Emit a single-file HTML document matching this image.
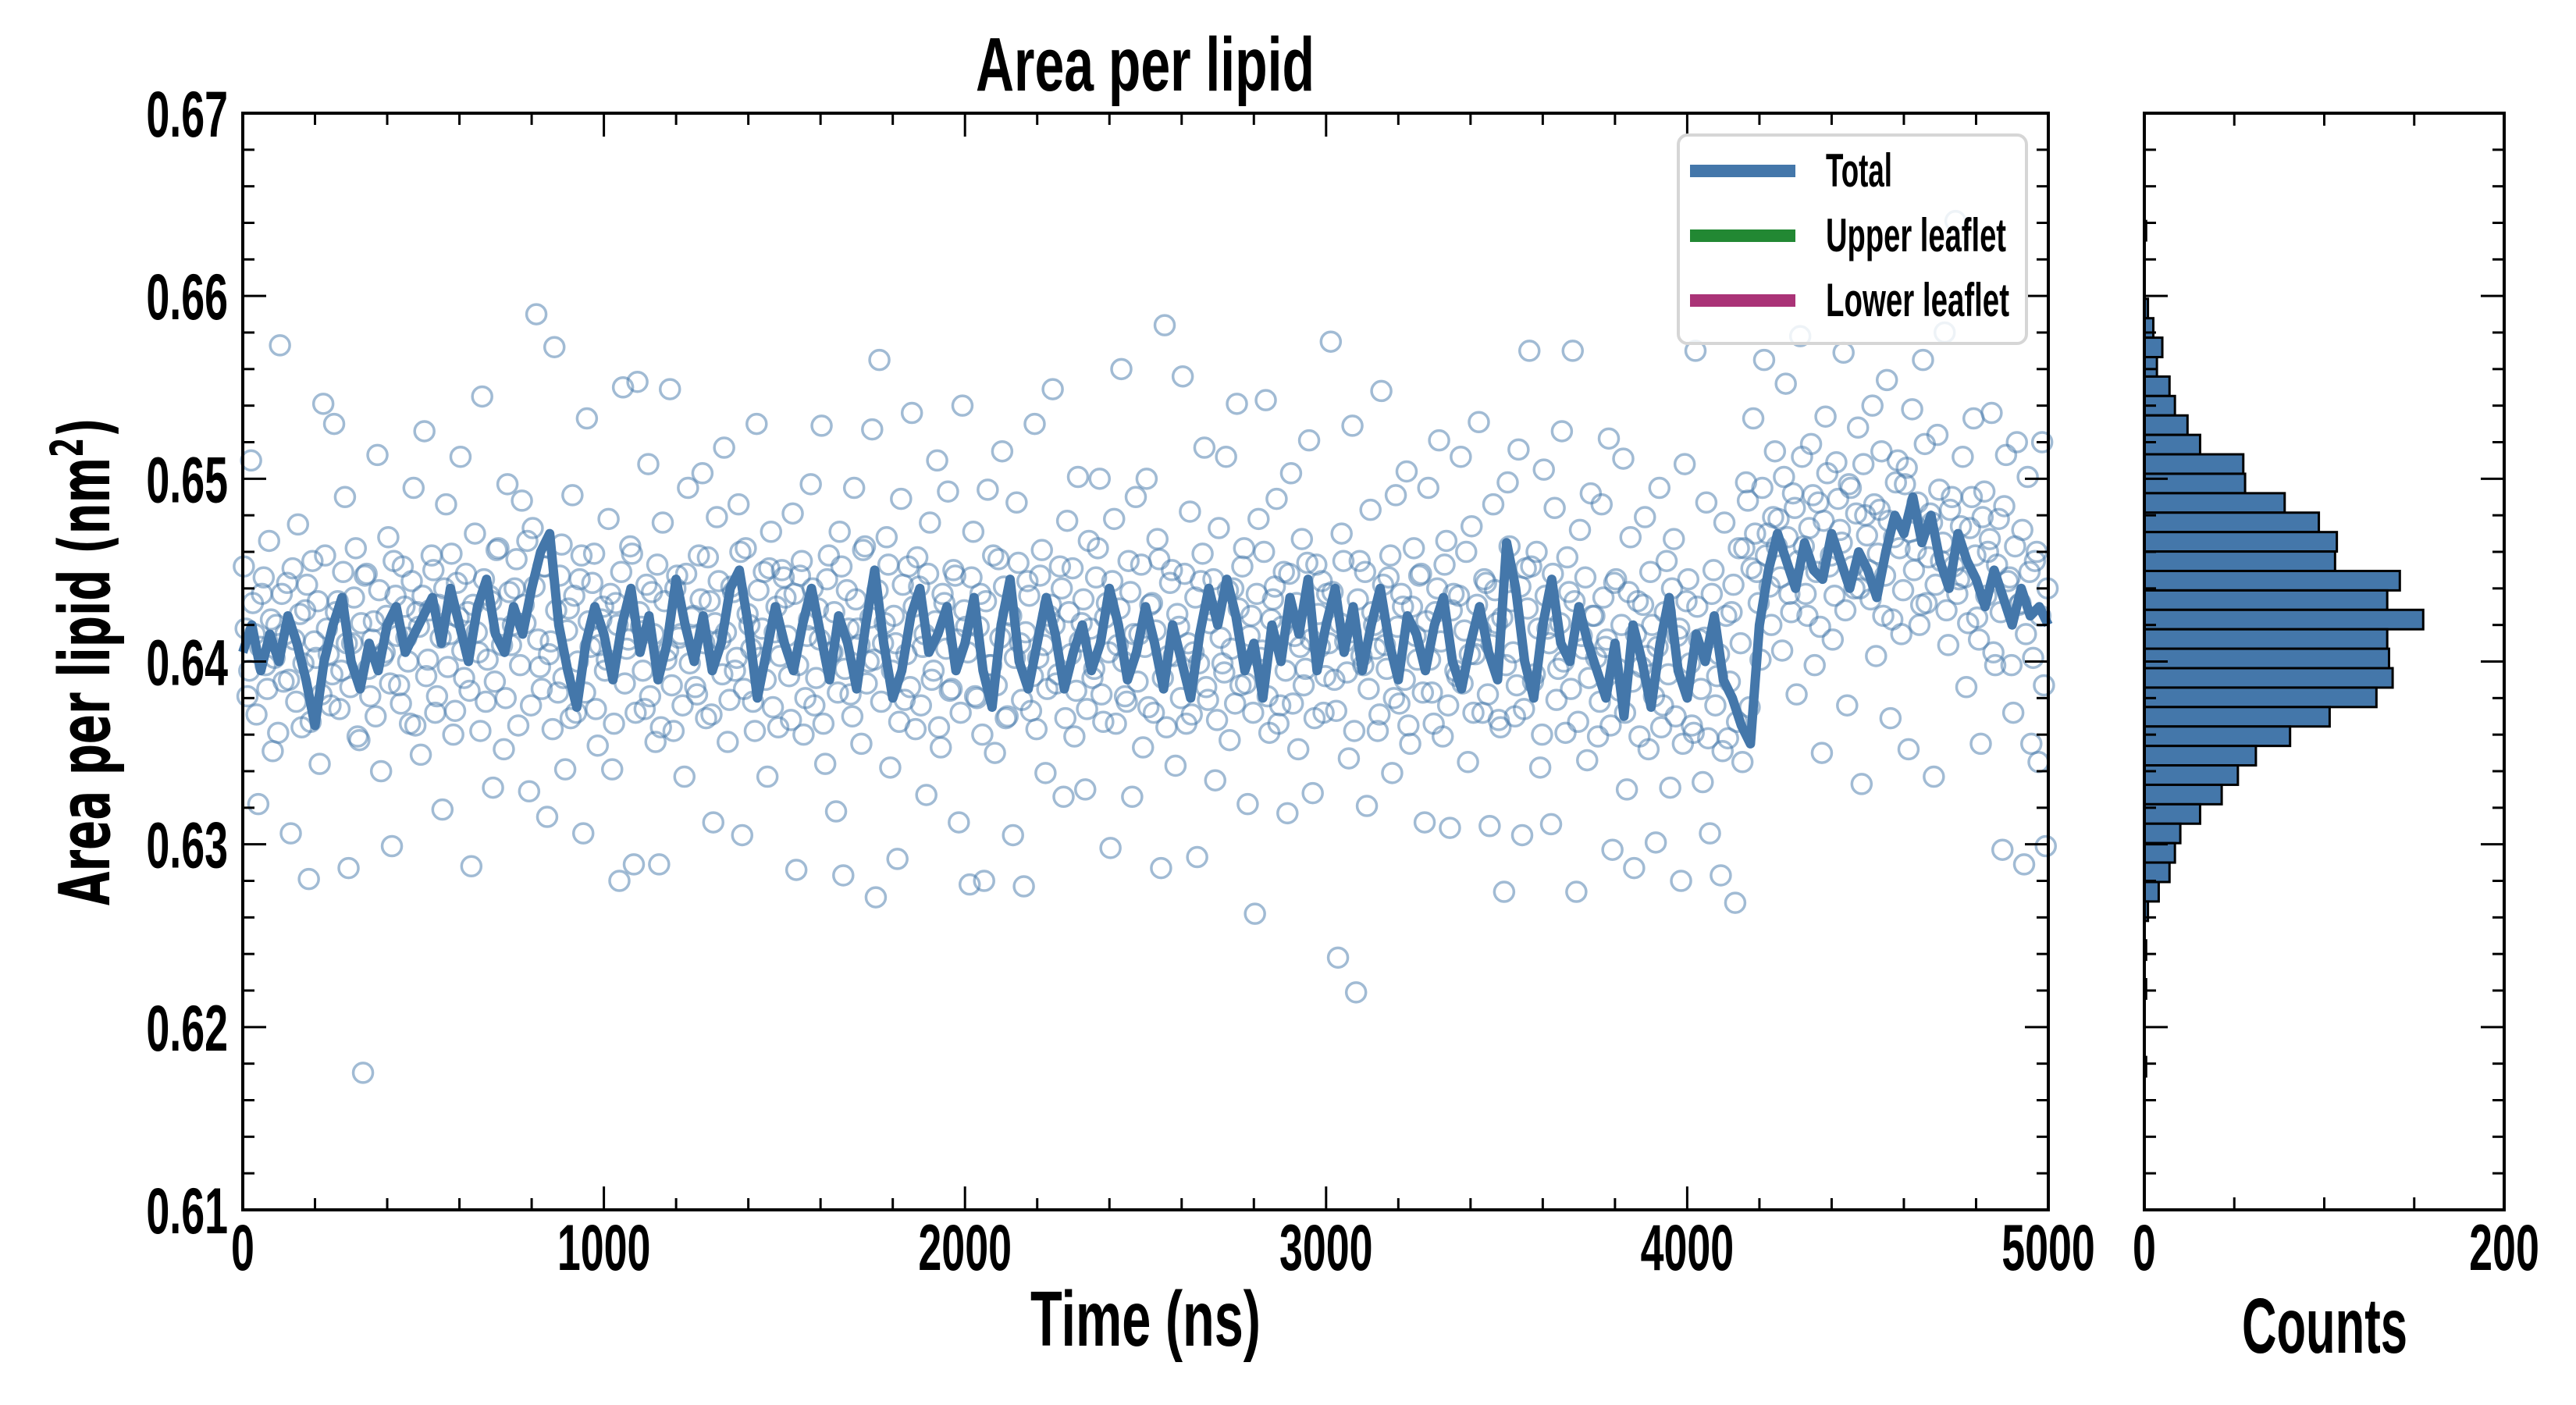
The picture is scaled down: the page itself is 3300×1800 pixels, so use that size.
<!DOCTYPE html>
<html><head><meta charset="utf-8"><style>
html,body{margin:0;padding:0;background:#fff;}
svg{display:block;font-family:"Liberation Sans",sans-serif;font-weight:bold;}
</style></head><body>
<svg id="chart" width="3300" height="1800" viewBox="0 0 3300 1800" xmlns="http://www.w3.org/2000/svg">
<rect x="0" y="0" width="3300" height="1800" fill="#fff"/>
<g id="scatter"></g>
<g id="line"></g>
<g id="hist"></g>
<g id="axes"></g>
<g id="legend">
<rect x="2150" y="173" width="446" height="267" rx="12" fill="#fff" fill-opacity="0.82" stroke="#d6d6d6" stroke-width="4"/>
<rect x="2165" y="211" width="135" height="16" fill="#4477aa"/>
<rect x="2165" y="294" width="135" height="16" fill="#228833"/>
<rect x="2165" y="377" width="135" height="16" fill="#aa3377"/>
<text x="2339" y="239" font-size="60" textLength="85" lengthAdjust="spacingAndGlyphs">Total</text>
<text x="2339" y="322" font-size="60" textLength="231" lengthAdjust="spacingAndGlyphs">Upper leaflet</text>
<text x="2339" y="405" font-size="60" textLength="235" lengthAdjust="spacingAndGlyphs">Lower leaflet</text>
</g>
<text x="1250" y="116" font-size="97" textLength="434" lengthAdjust="spacingAndGlyphs">Area per lipid</text>
<text x="1320" y="1724" font-size="100" textLength="295" lengthAdjust="spacingAndGlyphs">Time (ns)</text>
<text x="2872" y="1733" font-size="100" textLength="212" lengthAdjust="spacingAndGlyphs">Counts</text>
<text transform="translate(140,1160) rotate(-90)" font-size="90" style="font-family:'DejaVu Sans',sans-serif;font-weight:bold" textLength="625" lengthAdjust="spacingAndGlyphs">Area per lipid (nm<tspan font-size="58" dy="-34">2</tspan><tspan dy="34">)</tspan></text>
</svg>
<script>
const scatterVals = [
0.6452,0.6381,0.6510,0.6415,0.6322,0.6437,0.6398,0.6466,0.6351,0.6420,0.6573,0.6389,0.6443,0.6306,0.6412,0.6475,0.6364,0.6428,0.6281,0.6455,0.6402,0.6344,0.6541,0.6418,0.6376,
0.6530,0.6433,0.6395,0.6490,0.6287,0.6410,0.6462,0.6357,0.6175,0.6448,0.6381,0.6422,0.6513,0.6340,0.6405,0.6468,0.6299,0.6436,0.6387,0.6452,0.6413,0.6366,0.6495,0.6427,0.6349,
0.6526,0.6401,0.6458,0.6372,0.6431,0.6319,0.6486,0.6415,0.6360,0.6443,0.6512,0.6391,0.6427,0.6288,0.6470,0.6405,0.6545,0.6378,0.6436,0.6331,0.6461,0.6418,0.6352,0.6497,0.6409,
0.6440,0.6365,0.6488,0.6421,0.6329,0.6473,0.6590,0.6397,0.6452,0.6315,0.6411,0.6572,0.6383,0.6464,0.6341,0.6429,0.6491,0.6372,0.6445,0.6306,0.6533,0.6408,0.6459,0.6354,0.6423,
0.6395,0.6478,0.6341,0.6432,0.6280,0.6550,0.6407,0.6463,0.6289,0.6553,0.6419,0.6374,0.6508,0.6438,0.6356,0.6289,0.6476,0.6401,0.6549,0.6362,0.6447,0.6415,0.6337,0.6495,0.6424,
0.6386,0.6458,0.6503,0.6369,0.6433,0.6312,0.6479,0.6412,0.6517,0.6356,0.6441,0.6395,0.6486,0.6305,0.6462,0.6420,0.6378,0.6530,0.6402,0.6449,0.6337,0.6471,0.6416,0.6364,0.6450,
0.6435,0.6392,0.6481,0.6286,0.6447,0.6360,0.6414,0.6497,0.6376,0.6429,0.6529,0.6344,0.6458,0.6405,0.6318,0.6471,0.6283,0.6439,0.6382,0.6495,0.6418,0.6355,0.6463,0.6400,0.6527,
0.6271,0.6565,0.6410,0.6468,0.6342,0.6425,0.6292,0.6489,0.6379,0.6452,0.6536,0.6363,0.6441,0.6408,0.6327,0.6476,0.6395,0.6510,0.6353,0.6432,0.6493,0.6385,0.6447,0.6312,0.6540,
0.6419,0.6278,0.6471,0.6380,0.6437,0.6280,0.6494,0.6398,0.6350,0.6456,0.6515,0.6369,0.6426,0.6305,0.6487,0.6410,0.6277,0.6444,0.6373,0.6530,0.6402,0.6461,0.6339,0.6425,0.6549,
0.6388,0.6452,0.6326,0.6477,0.6404,0.6359,0.6501,0.6421,0.6330,0.6466,0.6391,0.6446,0.6500,0.6367,0.6432,0.6298,0.6478,0.6409,0.6560,0.6381,0.6455,0.6326,0.6490,0.6415,0.6353,
0.6500,0.6431,0.6372,0.6467,0.6287,0.6584,0.6403,0.6450,0.6343,0.6419,0.6556,0.6366,0.6482,0.6405,0.6293,0.6444,0.6517,0.6379,0.6428,0.6335,0.6473,0.6399,0.6512,0.6357,0.6440,
0.6541,0.6387,0.6462,0.6322,0.6425,0.6262,0.6478,0.6406,0.6543,0.6361,0.6434,0.6489,0.6376,0.6449,0.6317,0.6503,0.6414,0.6352,0.6467,0.6396,0.6521,0.6328,0.6453,0.6408,0.6372,
0.6437,0.6575,0.6390,0.6238,0.6470,0.6411,0.6347,0.6529,0.6219,0.6455,0.6398,0.6321,0.6483,0.6420,0.6362,0.6548,0.6409,0.6446,0.6339,0.6491,0.6377,0.6430,0.6504,0.6355,0.6462,
0.6401,0.6448,0.6312,0.6495,0.6383,0.6427,0.6521,0.6359,0.6466,0.6309,0.6437,0.6392,0.6512,0.6417,0.6345,0.6474,0.6404,0.6531,0.6372,0.6443,0.6310,0.6486,0.6421,0.6364,0.6274,
0.6498,0.6433,0.6370,0.6516,0.6305,0.6451,0.6570,0.6389,0.6460,0.6342,0.6505,0.6418,0.6311,0.6484,0.6396,0.6526,0.6361,0.6438,0.6570,0.6274,0.6472,0.6407,0.6346,0.6492,0.6425,
0.6359,0.6486,0.6408,0.6522,0.6297,0.6445,0.6384,0.6511,0.6330,0.6468,0.6287,0.6433,0.6397,0.6479,0.6352,0.6420,0.6301,0.6495,0.6376,0.6455,0.6331,0.6467,0.6414,0.6280,0.6508,
0.6445,0.6365,0.6570,0.6412,0.6334,0.6487,0.6306,0.6450,0.6392,0.6283,0.6476,0.6358,0.6427,0.6268,0.6462,0.6345,0.6498,0.6375,0.6533,0.6449,0.6401,0.6565,0.6470,0.6420,0.6515,
0.6478,0.6406,0.6552,0.6437,0.6492,0.6382,0.6578,0.6463,0.6425,0.6519,0.6398,0.6487,0.6350,0.6534,0.6452,0.6412,0.6509,0.6472,0.6569,0.6376,0.6495,0.6440,0.6528,0.6333,0.6480,
0.6450,0.6540,0.6403,0.6483,0.6425,0.6554,0.6369,0.6468,0.6510,0.6415,0.6497,0.6352,0.6538,0.6461,0.6420,0.6565,0.6432,0.6481,0.6337,0.6524,0.6455,0.6580,0.6409,0.6490,0.6641,
0.6445,0.6512,0.6386,0.6473,0.6533,0.6424,0.6355,0.6493,0.6460,0.6536,0.6398,0.6478,0.6297,0.6513,0.6446,0.6372,0.6520,0.6432,0.6289,0.6501,0.6355,0.6455,0.6345,0.6520,0.6299
];
const scatterVals2 = [
0.6418,0.6395,0.6432,0.6371,0.6408,0.6446,0.6385,0.6423,0.6402,0.6361,0.6437,0.6415,0.6390,0.6451,0.6378,0.6426,0.6399,0.6442,0.6367,0.6411,0.6433,0.6382,0.6458,0.6404,0.6393,
0.6427,0.6374,0.6449,0.6410,0.6386,0.6435,0.6359,0.6421,0.6447,0.6396,0.6412,0.6370,0.6439,0.6403,0.6425,0.6388,0.6455,0.6414,0.6377,0.6430,0.6400,0.6444,0.6365,0.6419,0.6436,
0.6392,0.6428,0.6450,0.6381,0.6413,0.6440,0.6397,0.6459,0.6373,0.6424,0.6406,0.6448,0.6384,0.6431,0.6416,0.6362,0.6445,0.6401,0.6433,0.6389,0.6462,0.6409,0.6380,0.6438,0.6420,
0.6456,0.6398,0.6431,0.6466,0.6376,0.6441,0.6412,0.6385,0.6452,0.6404,0.6363,0.6428,0.6447,0.6391,0.6417,0.6369,0.6436,0.6400,0.6458,0.6383,0.6422,0.6443,0.6374,0.6409,0.6430,
0.6401,0.6437,0.6366,0.6420,0.6449,0.6388,0.6412,0.6459,0.6372,0.6427,0.6395,0.6442,0.6381,0.6415,0.6453,0.6364,0.6433,0.6406,0.6387,0.6440,0.6413,0.6376,0.6448,0.6399,0.6425,
0.6382,0.6434,0.6410,0.6457,0.6371,0.6421,0.6444,0.6393,0.6416,0.6379,0.6438,0.6402,0.6460,0.6385,0.6426,0.6407,0.6362,0.6439,0.6418,0.6390,0.6451,0.6375,0.6430,0.6403,0.6446,
0.6414,0.6368,0.6437,0.6398,0.6455,0.6380,0.6423,0.6440,0.6391,0.6412,0.6366,0.6445,0.6405,0.6427,0.6383,0.6452,0.6396,0.6418,0.6370,0.6434,0.6409,0.6461,0.6388,0.6424,0.6401,
0.6439,0.6378,0.6421,0.6453,0.6395,0.6410,0.6367,0.6442,0.6404,0.6386,0.6430,0.6457,0.6376,0.6415,0.6448,0.6390,0.6422,0.6364,0.6437,0.6407,0.6384,0.6450,0.6412,0.6372,0.6428,
0.6405,0.6446,0.6381,0.6419,0.6360,0.6433,0.6398,0.6458,0.6387,0.6413,0.6441,0.6370,0.6425,0.6402,0.6454,0.6379,0.6416,0.6436,0.6392,0.6363,0.6447,0.6409,0.6385,0.6431,0.6420,
0.6393,0.6440,0.6369,0.6427,0.6451,0.6384,0.6411,0.6434,0.6374,0.6418,0.6396,0.6462,0.6382,0.6424,0.6405,0.6444,0.6366,0.6429,0.6400,0.6378,0.6438,0.6415,0.6389,0.6453,0.6408,
0.6375,0.6432,0.6417,0.6456,0.6391,0.6364,0.6443,0.6403,0.6426,0.6380,0.6448,0.6410,0.6371,0.6435,0.6399,0.6459,0.6386,0.6421,0.6445,0.6368,0.6413,0.6394,0.6439,0.6407,0.6377,
0.6429,0.6452,0.6388,0.6414,0.6372,0.6437,0.6402,0.6460,0.6381,0.6423,0.6441,0.6366,0.6419,0.6395,0.6448,0.6377,0.6432,0.6408,0.6387,0.6454,0.6412,0.6369,0.6426,0.6444,0.6392,
0.6410,0.6438,0.6373,0.6421,0.6455,0.6394,0.6416,0.6362,0.6434,0.6403,0.6449,0.6385,0.6427,0.6407,0.6371,0.6442,0.6396,0.6458,0.6380,0.6419,0.6437,0.6390,0.6365,0.6430,0.6414,
0.6447,0.6383,0.6422,0.6401,0.6366,0.6440,0.6411,0.6453,0.6376,0.6428,0.6395,0.6436,0.6388,0.6460,0.6404,0.6372,0.6431,0.6417,0.6445,0.6382,0.6409,0.6439,0.6368,0.6424,0.6398,
0.6463,0.6405,0.6387,0.6441,0.6374,0.6429,0.6452,0.6393,0.6418,0.6360,0.6436,0.6410,0.6448,0.6379,0.6421,0.6400,0.6457,0.6385,0.6433,0.6367,0.6414,0.6446,0.6391,0.6425,0.6402,
0.6378,0.6435,0.6412,0.6365,0.6443,0.6396,0.6420,0.6372,0.6438,0.6389,0.6415,0.6359,0.6431,0.6403,0.6449,0.6381,0.6408,0.6364,0.6427,0.6393,0.6440,0.6370,0.6418,0.6355,0.6433,
0.6399,0.6361,0.6430,0.6385,0.6413,0.6358,0.6437,0.6376,0.6404,0.6351,0.6425,0.6389,0.6442,0.6367,0.6410,0.6462,0.6488,0.6451,0.6470,0.6432,0.6495,0.6458,0.6441,0.6479,0.6463,
0.6446,0.6501,0.6468,0.6427,0.6484,0.6455,0.6512,0.6437,0.6473,0.6491,0.6449,0.6419,0.6477,0.6503,0.6458,0.6436,0.6489,0.6465,0.6428,0.6497,0.6452,0.6481,0.6440,0.6508,0.6469,
0.6434,0.6486,0.6459,0.6515,0.6447,0.6477,0.6423,0.6498,0.6462,0.6439,0.6506,0.6471,0.6450,0.6487,0.6431,0.6519,0.6457,0.6476,0.6442,0.6494,0.6465,0.6428,0.6483,0.6452,0.6437,
0.6474,0.6446,0.6421,0.6490,0.6458,0.6412,0.6479,0.6436,0.6467,0.6405,0.6453,0.6427,0.6485,0.6444,0.6398,0.6463,0.6431,0.6472,0.6415,0.6449,0.6402,0.6460,0.6425,0.6387,0.6440
];
const scatterStep = 10; // ns between samples
const lineVals = [
0.6405,0.6420,0.6395,0.6415,0.6400,0.6425,0.6410,0.6390,0.6365,0.6400,
0.6420,0.6435,0.6400,0.6385,0.6410,0.6395,0.6420,0.6430,0.6405,0.6415,
0.6425,0.6435,0.6410,0.6440,0.6420,0.6400,0.6430,0.6445,0.6415,0.6405,
0.6430,0.6415,0.6440,0.6460,0.6470,0.6420,0.6395,0.6375,0.6410,0.6430,
0.6415,0.6390,0.6420,0.6440,0.6405,0.6425,0.6390,0.6410,0.6445,0.6420,
0.6400,0.6425,0.6395,0.6410,0.6440,0.6450,0.6420,0.6380,0.6405,0.6430,
0.6410,0.6395,0.6420,0.6440,0.6415,0.6390,0.6425,0.6410,0.6385,0.6420,
0.6450,0.6410,0.6380,0.6395,0.6425,0.6440,0.6405,0.6415,0.6430,0.6395,
0.6410,0.6435,0.6395,0.6375,0.6420,0.6445,0.6400,0.6385,0.6410,0.6435,
0.6415,0.6385,0.6405,0.6420,0.6395,0.6410,0.6440,0.6420,0.6390,0.6405,
0.6430,0.6410,0.6385,0.6420,0.6400,0.6380,0.6415,0.6440,0.6420,0.6445,
0.6425,0.6395,0.6410,0.6380,0.6420,0.6400,0.6435,0.6415,0.6445,0.6395,
0.6420,0.6440,0.6405,0.6430,0.6395,0.6420,0.6440,0.6410,0.6390,0.6425,
0.6415,0.6395,0.6420,0.6435,0.6400,0.6385,0.6410,0.6430,0.6405,0.6390,
0.6465,0.6440,0.6400,0.6380,0.6420,0.6445,0.6410,0.6400,0.6430,0.6410,
0.6395,0.6380,0.6410,0.6370,0.6420,0.6400,0.6375,0.6410,0.6435,0.6395,
0.6380,0.6415,0.6400,0.6425,0.6390,0.6380,0.6365,0.6355,0.6420,0.6450,
0.6470,0.6455,0.6440,0.6465,0.6450,0.6445,0.6470,0.6455,0.6440,0.6460,
0.6450,0.6435,0.6460,0.6480,0.6470,0.6490,0.6465,0.6480,0.6455,0.6440,
0.6470,0.6455,0.6445,0.6430,0.6450,0.6435,0.6420,0.6440,0.6425,0.6430,
0.6420
];
const lineStep = 25; // ns
const histCounts = [1,0,0,0,2,5,10,7,14,17,24,31,55,56,78,97,107,106,142,135,155,135,136,138,129,103,81,62,52,43,31,20,17,14,8,2,0,1,0,1,0,0,0,1]; // top (high value) to bottom
const histMax = 0.6641;
const histMin = 0.6173;
const xTickLabels = ["0","1000","2000","3000","4000","5000"];
const yTickLabels = ["0.61","0.62","0.63","0.64","0.65","0.66","0.67"];
const histTickLabels = ["0","200"];

const NS = "http://www.w3.org/2000/svg";
const L = 311, R = 2624, T = 145, B = 1550;
const HL = 2747, HR = 3208;
const X0 = 0, X1 = 5000, Y0 = 0.61, Y1 = 0.67, C0 = 0, C1 = 200;
const xs = v => L + (v - X0) / (X1 - X0) * (R - L);
const ys = v => B - (v - Y0) / (Y1 - Y0) * (B - T);
const hs = c => HL + (c - C0) / (C1 - C0) * (HR - HL);
function mk(tag, attrs, parent) {
  const e = document.createElementNS(NS, tag);
  for (const k in attrs) e.setAttribute(k, attrs[k]);
  parent.appendChild(e);
  return e;
}

// scatter
const gS = document.getElementById('scatter');
function drawScatter(arr, offset) {
  arr.forEach((v, i) => {
    const c = mk('circle', {cx: xs(i * scatterStep + offset), cy: ys(v), r: 12.5, fill: 'none', stroke: '#4477aa', 'stroke-opacity': 0.5, 'stroke-width': 3.5}, gS);
    
    
  });
}
drawScatter(scatterVals, 3);
drawScatter(scatterVals2, 8);

// line
const gL = document.getElementById('line');
const pts = lineVals.map((v, i) => xs(i * lineStep).toFixed(1) + ',' + ys(v).toFixed(1)).join(' ');
const pl = mk('polyline', {points: pts, fill: 'none', stroke: '#4477aa', 'stroke-width': 12, 'stroke-linejoin': 'round'}, gL);



// histogram
const gH = document.getElementById('hist');
const bw = (histMax - histMin) / histCounts.length;
histCounts.forEach((c, i) => {
  const top = histMax - i * bw, bot = top - bw;
  const r = mk('rect', {x: hs(0), y: ys(top), width: Math.max(0, hs(c) - hs(0)), height: ys(bot) - ys(top), fill: '#4477aa', stroke: '#000', 'stroke-width': 3}, gH);
  
  
});

// axes
const gA = document.getElementById('axes');
function line(x1, y1, x2, y2, w, name) {
  const l = mk('line', {x1, y1, x2, y2, stroke: '#000', 'stroke-width': w}, gA);
  
  
}
function label(txt, x, y, anchor, name) {
  const t = mk('text', {transform: `translate(${x},${y}) scale(0.64,1)`, 'text-anchor': anchor, 'font-size': 84}, gA);
  t.textContent = txt;
  
  
}
[[L, R], [HL, HR]].forEach(([a, b]) => {
  const f = mk('rect', {x: a, y: T, width: b - a, height: B - T, fill: 'none', stroke: '#000', 'stroke-width': 4}, gA);
  
  
});
for (let v = X0; v <= X1; v += 200) {
  const major = v % 1000 === 0, len = major ? 30 : 15, x = xs(v);
  line(x, B, x, B - len, 3, 'x-tick');
  line(x, T, x, T + len, 3, 'x-tick-top');
}
xTickLabels.forEach(s => label(s, xs(+s), 1627, 'middle', 'x-tick-label'));
for (let k = 0; k <= 30; k++) {
  const v = Y0 + k * 0.002, major = k % 5 === 0, len = major ? 30 : 15, y = ys(v);
  line(L, y, L + len, y, 3, 'y-tick');
  line(R, y, R - len, y, 3, 'y-tick-right');
  line(HL, y, HL + len, y, 3, 'hist-y-tick');
  line(HR, y, HR - len, y, 3, 'hist-y-tick-right');
}
yTickLabels.forEach(s => label(s, 292, ys(+s) + 30, 'end', 'y-tick-label'));
for (let c = 50; c < 200; c += 50) {
  line(hs(c), B, hs(c), B - 16, 3, 'hist-x-tick');
  line(hs(c), T, hs(c), T + 16, 3, 'hist-x-tick-top');
}
histTickLabels.forEach(s => label(s, hs(+s), 1627, 'middle', 'hist-x-tick-label'));
</script>
</body></html>
